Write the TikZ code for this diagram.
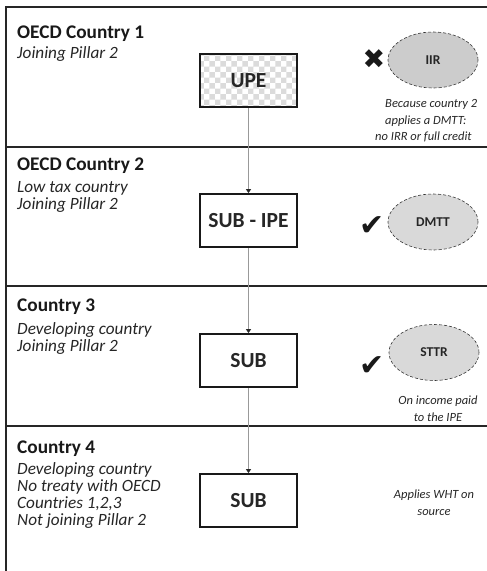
\documentclass[tikz,border=0pt]{standalone}
\usepackage{fontspec}
\setmainfont{Carlito}
\newfontfamily\symfont{DejaVu Sans}
\usetikzlibrary{arrows.meta,patterns,shapes.geometric}
\begin{document}
\begin{tikzpicture}[x=1pt,y=-1pt,
  sep/.style={draw=black!85,line width=1.4pt},
  title/.style={anchor=base west,inner sep=0pt,font=\fontsize{19.3}{20}\selectfont\bfseries,text=black!90},
  desc/.style={anchor=base west,inner sep=0pt,align=left,font=\fontsize{17.2}{16.9}\selectfont\itshape,text=black!85},
  entity/.style={draw=black!90,line width=1.8pt,minimum width=97pt,minimum height=53pt,inner sep=0pt,font=\fontsize{21.5}{24}\selectfont\bfseries,text=black!85,fill=white},
  rule/.style={ellipse,draw=black!80,densely dashed,line width=0.6pt,fill=black!15,minimum width=90pt,minimum height=56pt,inner sep=0pt,font=\fontsize{13.5}{14}\selectfont\bfseries,text=black!85},
  note/.style={inner sep=0pt,align=center,font=\fontsize{12.5}{16.5}\selectfont\itshape,text=black!85},
  tick/.style={inner sep=0pt,font=\symfont\fontsize{30}{30}\selectfont,text=black!90},
  link/.style={draw=black!40,line width=0.8pt,-{Triangle[width=5pt,length=4pt,color=black!85]}}
]
\useasboundingbox (0,0) rectangle (487,571);
% frame lines
\coordinate (tl) at (6,7); \coordinate (tr) at (487,7); \coordinate (bl) at (6,571);
\draw[sep] (tr) -- (tl) -- (bl);
\coordinate (s1l) at (6,147); \coordinate (s1r) at (487,147);
\coordinate (s2l) at (6,286); \coordinate (s2r) at (487,286);
\coordinate (s3l) at (6,426); \coordinate (s3r) at (487,426);
\draw[sep] (s1l) -- (s1r);
\draw[sep] (s2l) -- (s2r);
\draw[sep] (s3l) -- (s3r);

% section labels (base anchor = last line baseline)
\node[title] (t1) at (17,38) {OECD Country 1};
\node[desc] (d1) at (17,58) {Joining Pillar 2};
\node[title] (t2) at (17,170) {OECD Country 2};
\node[desc] (d2) at (17,209) {Low tax country\\Joining Pillar 2};
\node[title] (t3) at (17,311) {Country 3};
\node[desc] (d3) at (17,351.5) {Developing country\\Joining Pillar 2};
\node[title] (t4) at (17,453) {Country 4};
\node[desc] (d4) at (17,525.5) {Developing country\\No treaty with OECD\\Countries 1,2,3\\Not joining Pillar 2};

% entities
\node[entity,preaction={fill=white},pattern=checkerboard,pattern color=black!14] (upe) at (248.5,80.5) {};
\node[inner sep=0pt,font=\fontsize{21.5}{24}\selectfont\bfseries,text=black!85] (upelabel) at (upe.center) {UPE};
\node[entity] (ipe) at (248.5,220.5) {SUB - IPE};
\node[entity] (sub3) at (248.5,360.5) {SUB};
\node[entity] (sub4) at (248.5,500.5) {SUB};

\draw[link] (upe.south) -- (ipe.north);
\draw[link] (ipe.south) -- (sub3.north);
\draw[link] (sub3.south) -- (sub4.north);

% rules
\node[rule,fill=black!20] (iir) at (433,60) {IIR};
\node[rule] (dmtt) at (433,222) {DMTT};
\node[rule] (sttr) at (434,352.5) {STTR};

\node[tick,font=\symfont\fontsize{27}{27}\selectfont] (x1) at (374,59) {✖};
\node[tick] (c2) at (372,226) {✔};
\node[tick] (c3) at (372,366) {✔};

% notes
\node[note,anchor=base west] (n1a) at (385,107) {Because country 2};
\node[note,anchor=base west] (n1b) at (385,124) {applies a DMTT:};
\node[note,anchor=base west] (n1c) at (375,140) {no IRR or full credit};
\node[note,anchor=base] (n3) at (438,421) {On income paid\\to the IPE};
\node[note,anchor=base] (n4) at (434,515) {Applies WHT on\\source};
\end{tikzpicture}
\end{document}
